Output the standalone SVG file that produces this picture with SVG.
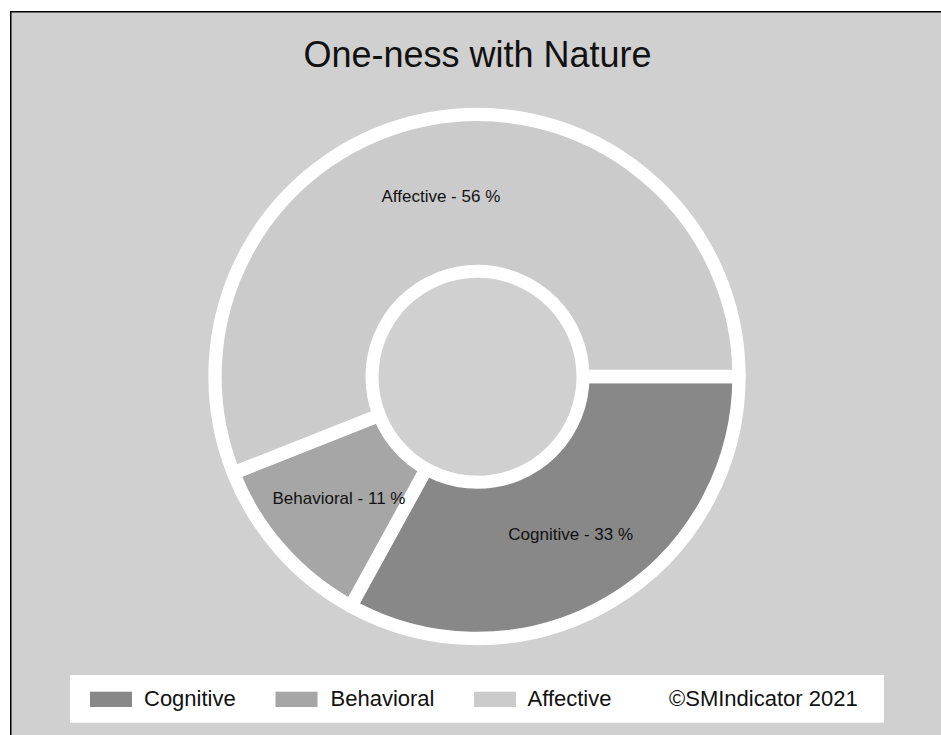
<svg xmlns="http://www.w3.org/2000/svg" width="941" height="735" viewBox="0 0 941 735">
<style>
.wedge{stroke:#ffffff;stroke-width:13.3;stroke-linejoin:round}
.lbl{font-family:"Liberation Sans",Arial,sans-serif;font-size:17px;fill:#111111}
.leg{font-family:"Liberation Sans",Arial,sans-serif;font-size:22px;fill:#111111}
.title{font-family:"Liberation Sans",Arial,sans-serif;font-size:36px;fill:#111111}
</style>
<rect x="0" y="0" width="941" height="735" fill="#ffffff"/>
<rect x="10" y="11" width="931" height="724" fill="#d0d0d0"/>
<line x1="10.75" y1="11" x2="10.75" y2="735" stroke="#000000" stroke-width="1.5"/>
<line x1="10" y1="11.75" x2="941" y2="11.75" stroke="#000000" stroke-width="1.5"/>
<text class="title" x="477.5" y="66.5" text-anchor="middle">One-ness with Nature</text>
<g id="chart">
<g id="cognitive">
<path class="wedge" fill="#888888" d="M477,376.5 L739,376.5 A262,262 0 0 1 350.78,606.09 Z"/>
</g>
<g id="behavioral">
<path class="wedge" fill="#a6a6a6" d="M477,376.5 L350.78,606.09 A262,262 0 0 1 233.4,472.95 Z"/>
</g>
<g id="affective">
<path class="wedge" fill="#cbcbcb" d="M477,376.5 L233.4,472.95 A262,262 0 1 1 739,376.5 Z"/>
</g>
<g id="hole">
<circle cx="477.5" cy="376.8" r="105.5" fill="#d0d0d0" stroke="#ffffff" stroke-width="13"/>
</g>
<g id="labels">
<text class="lbl" x="381.5" y="202.3">Affective - 56 %</text>
<text class="lbl" x="272.5" y="504">Behavioral - 11 %</text>
<text class="lbl" x="508.3" y="540">Cognitive - 33 %</text>
</g>
</g>
<g id="connectors"></g>
<g id="legend">
<rect x="70" y="675" width="814" height="47.7" fill="#ffffff"/>
<rect x="90" y="691.7" width="42" height="15.3" fill="#888888"/>
<text class="leg" x="144" y="705.7">Cognitive</text>
<rect x="275.5" y="691.7" width="42" height="15.3" fill="#a6a6a6"/>
<text class="leg" x="330.5" y="705.7">Behavioral</text>
<rect x="474" y="691.7" width="42" height="15.3" fill="#cbcbcb"/>
<text class="leg" x="527.5" y="705.7">Affective</text>
<text class="leg" x="669" y="705.7">©SMIndicator 2021</text>
</g>
</svg>
